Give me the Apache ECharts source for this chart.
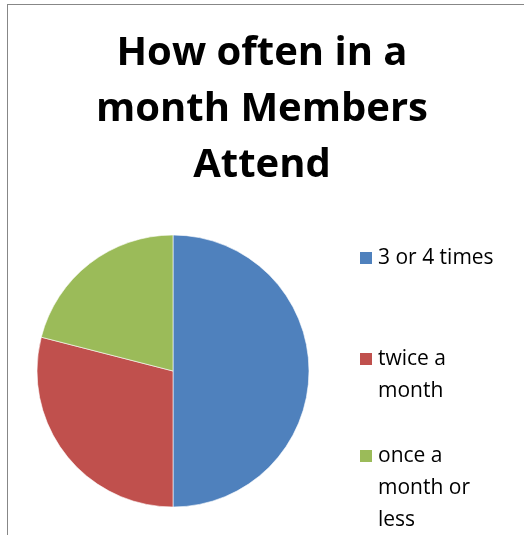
<!DOCTYPE html>
<html>
<head>
<meta charset="utf-8">
<script src="https://cdn.jsdelivr.net/npm/echarts@6/dist/echarts.min.js"></script>
<style>
html,body{margin:0;padding:0;background:#fff;overflow:hidden;}
#frame{position:absolute;left:7px;top:4px;width:600px;height:600px;border-left:1px solid #878787;border-top:1px solid #878787;}
#chart{position:absolute;left:0;top:0;width:524px;height:535px;}
</style>
</head>
<body>
<div id="frame"></div>
<div id="chart"></div>
<script>
var titleText = 'How often in a\nmonth Members\nAttend';
var categories = ['3 or 4 times', 'twice a month', 'once a month or less'];
var legendLabels = ['3 or 4 times', 'twice a\nmonth', 'once a\nmonth or\nless'];
var values = [50, 29, 21];
var colors = ['#4F81BD', '#C0504D', '#9BBB59'];

var FONT = 'Open Sans';
var LH = 32;
var legendTops = [242, 311, 376];

var legends = categories.map(function (name, i) {
  var lines = legendLabels[i].split('\n').length;
  var pad = new Array(lines).join('\n'); // blank lines so the first line sits level with the icon
  return {
    show: true,
    orient: 'vertical',
    left: 358,
    top: legendTops[i],
    padding: 0,
    itemWidth: 14,
    itemHeight: 14,
    icon: 'rect',
    data: [name],
    formatter: function () { return pad + legendLabels[i]; },
    textStyle: {
      fontFamily: FONT,
      fontSize: 21,
      color: '#000',
      lineHeight: LH
    }
  };
});

var chart = echarts.init(document.getElementById('chart'));
chart.setOption({
  animation: false,
  color: colors,
  title: {
    text: titleText,
    left: 'center',
    top: 21,
    textStyle: {
      fontFamily: FONT,
      fontWeight: 'bold',
      fontSize: 40,
      lineHeight: 56,
      color: '#000'
    }
  },
  legend: legends,
  series: [{
    type: 'pie',
    center: [173, 371],
    radius: 136,
    startAngle: 90,
    clockwise: true,
    label: { show: false },
    labelLine: { show: false },
    itemStyle: { borderColor: '#fff', borderWidth: 0.6 },
    data: categories.map(function (c, i) { return { name: c, value: values[i] }; })
  }]
});
</script>
</body>
</html>
